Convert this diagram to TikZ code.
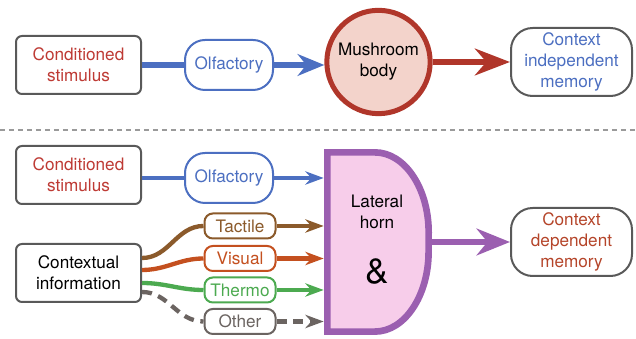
\documentclass[tikz,border=0pt]{standalone}
\usepackage{fontspec}
\setmainfont{TeX Gyre Heros}
\usetikzlibrary{arrows.meta,positioning}

\definecolor{olfblue}{HTML}{4C6FC1}
\definecolor{condred}{HTML}{BE3A34}
\definecolor{mbred}{HTML}{B0362A}
\definecolor{mbfill}{HTML}{F3D3CB}
\definecolor{boxgrey}{HTML}{595959}
\definecolor{sepgrey}{HTML}{9A9A9A}
\definecolor{tacbrown}{HTML}{8B5A2B}
\definecolor{visorange}{HTML}{C4501F}
\definecolor{thrgreen}{HTML}{4CAA50}
\definecolor{othgrey}{HTML}{6B6461}
\definecolor{lhpurple}{HTML}{9B5FB0}
\definecolor{lhfill}{HTML}{F7CDEA}
\definecolor{cdmred}{HTML}{B5452A}

\begin{document}
\begin{tikzpicture}[x=0.6pt, y=0.6pt, font=\fontsize{10.3}{12.5}\selectfont,
    every node/.style={align=center, inner sep=0pt},
    greybox/.style={draw=boxgrey, fill=white, line width=1.2pt, rounded corners=3.6pt,
        minimum width=75pt, minimum height=34.8pt},
    olfpill/.style={draw=olfblue, text=olfblue, fill=white, line width=1.2pt,
        rounded corners=12pt, minimum width=52.8pt, minimum height=30pt},
    memory/.style={draw=boxgrey, fill=white, line width=1.2pt, rounded corners=13pt,
        minimum width=72.6pt, minimum height=40.8pt},
    sense/.style={draw=#1, text=#1, fill=white, line width=1.2pt, rounded corners=5pt,
        minimum width=42.6pt, minimum height=15pt},
    feed/.style={draw=#1, line width=2.6pt},
    feedarrow/.style={draw=#1, line width=2.6pt, -{Stealth[length=11pt, width=8pt]}}]
    \useasboundingbox (0,0) rectangle (636,339);

    % context independent pathway
    \node[greybox, text=condred] (cs1) at (78.5,274) {Conditioned\\stimulus};
    \node[olfpill] (olf1) at (229,274) {Olfactory};
    \node[circle, draw=mbred, fill=mbfill, line width=3pt, minimum size=62pt] (mb) at (378.5,277) {Mushroom\\body};
    \node[memory, text=olfblue] (cim) at (571.5,277) {Context\\independent\\memory};

    \draw[olfblue, line width=4pt] (cs1) -- (olf1);
    \draw[olfblue, line width=4pt, -{Stealth[length=16pt, width=13pt]}] (olf1) -- (olf1 -| mb.west);
    \draw[mbred, line width=3.6pt, -{Stealth[length=21pt, width=16pt]}] (mb) -- (cim);

    \draw[sepgrey, line width=0.9pt, dash pattern=on 3pt off 2.4pt] (0,209) -- (636,209);

    % context dependent pathway
    \node[greybox, text=condred] (cs2) at (78.5,164) {Conditioned\\stimulus};
    \node[olfpill] (olf2) at (229,161) {Olfactory};
    \node[greybox] (ctx) at (78.5,66) {Contextual\\information};
    \node[sense=tacbrown] (tac) at (240,113) {Tactile};
    \node[sense=visorange] (vis) at (240,80.5) {Visual};
    \node[sense=thrgreen] (thr) at (240,49) {Thermo};
    \node[sense=othgrey] (oth) at (240,17.5) {Other};
    \node[minimum width=64.8pt, minimum height=111.6pt] (lh) at (378,97) {};
    \node[memory, text=cdmred] (cdm) at (571.5,97) {Context\\dependent\\memory};

    \draw[lhpurple, fill=lhfill, line width=4pt] (327.4,186.6) -- (375,186.6)
        arc[start angle=90, end angle=0, x radius=32.2pt, y radius=48pt] -- (428.6,87.4)
        arc[start angle=0, end angle=-90, x radius=32.2pt, y radius=48pt] -- (327.4,7.4) -- cycle;
    \node (lhtext) at (377,127) {Lateral\\horn};
    \node[font=\fontsize{21}{21}\selectfont] (lhand) at (377,67) {\&};

    \draw[feed=olfblue] (olf2 -| cs2.east) -- (olf2);
    \draw[feedarrow=olfblue] (olf2) -- (olf2 -| lh.west);

    \draw[feed=tacbrown] ([yshift=9pt]ctx.east) to[out=0, in=180] (tac.west);
    \draw[feed=visorange] ([yshift=1.8pt]ctx.east) to[out=0, in=180] (vis.west);
    \draw[feed=thrgreen] ([yshift=-6pt]ctx.east) to[out=0, in=180] (thr.west);
    \draw[feed=othgrey, dash pattern=on 6pt off 4pt] ([yshift=-11.4pt]ctx.east) to[out=0, in=180] (oth.west);

    \draw[feedarrow=tacbrown] (tac) -- (tac -| lh.west);
    \draw[feedarrow=visorange] (vis) -- (vis -| lh.west);
    \draw[feedarrow=thrgreen] (thr) -- (thr -| lh.west);
    \draw[feedarrow=othgrey, dash pattern=on 6pt off 4pt] (oth) -- (oth -| lh.west);

    \draw[lhpurple, line width=3.6pt, -{Stealth[length=20pt, width=16pt]}] (lh.east) -- (cdm);
\end{tikzpicture}
\end{document}
